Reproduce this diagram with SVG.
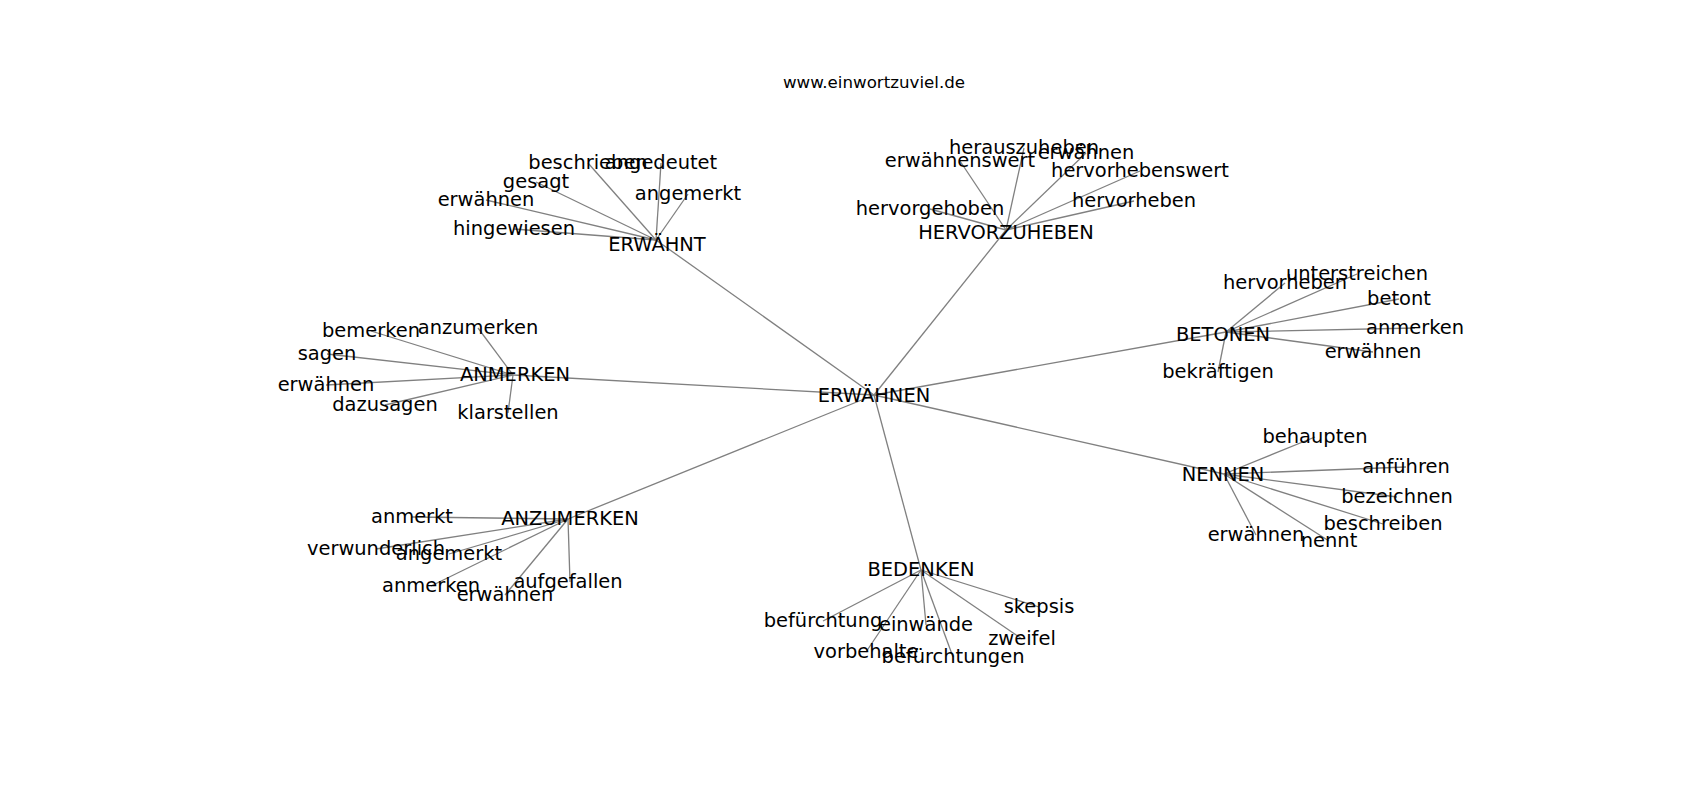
<svg xmlns="http://www.w3.org/2000/svg" width="1700" height="800" viewBox="0 0 1700 800">
<style>
.e{stroke:#808080;stroke-width:1.3;fill:none}
.l{font-family:"DejaVu Sans",sans-serif;font-size:19.44px;fill:#000;text-anchor:middle}
.t{font-family:"DejaVu Sans",sans-serif;font-size:16.67px;fill:#000;text-anchor:middle}
</style>
<rect width="1700" height="800" fill="#fff"/>
<text class="t" x="874" y="88">www.einwortzuviel.de</text>
<g id="edges">
<line class="e" x1="874" y1="395" x2="656" y2="240"/>
<line class="e" x1="874" y1="395" x2="1006" y2="230"/>
<line class="e" x1="874" y1="395" x2="1226" y2="332"/>
<line class="e" x1="874" y1="395" x2="513" y2="375"/>
<line class="e" x1="874" y1="395" x2="568" y2="519"/>
<line class="e" x1="874" y1="395" x2="921" y2="570"/>
<line class="e" x1="874" y1="395" x2="1224" y2="474"/>
<line class="e" x1="656" y1="240" x2="588" y2="163"/>
<line class="e" x1="656" y1="240" x2="661" y2="163"/>
<line class="e" x1="656" y1="240" x2="536" y2="182"/>
<line class="e" x1="656" y1="240" x2="486" y2="200"/>
<line class="e" x1="656" y1="240" x2="514" y2="229"/>
<line class="e" x1="656" y1="240" x2="688" y2="194"/>
<line class="e" x1="1006" y1="230" x2="1024" y2="148"/>
<line class="e" x1="1006" y1="230" x2="960" y2="161"/>
<line class="e" x1="1006" y1="230" x2="1086" y2="153"/>
<line class="e" x1="1006" y1="230" x2="1140" y2="171"/>
<line class="e" x1="1006" y1="230" x2="930" y2="209"/>
<line class="e" x1="1006" y1="230" x2="1134" y2="201"/>
<line class="e" x1="1226" y1="332" x2="1357" y2="274"/>
<line class="e" x1="1226" y1="332" x2="1285" y2="283"/>
<line class="e" x1="1226" y1="332" x2="1399" y2="299"/>
<line class="e" x1="1226" y1="332" x2="1415" y2="328"/>
<line class="e" x1="1226" y1="332" x2="1373" y2="352"/>
<line class="e" x1="1226" y1="332" x2="1218" y2="372"/>
<line class="e" x1="513" y1="375" x2="371" y2="331"/>
<line class="e" x1="513" y1="375" x2="478" y2="328"/>
<line class="e" x1="513" y1="375" x2="327" y2="354"/>
<line class="e" x1="513" y1="375" x2="326" y2="385"/>
<line class="e" x1="513" y1="375" x2="385" y2="405"/>
<line class="e" x1="513" y1="375" x2="508" y2="413"/>
<line class="e" x1="568" y1="519" x2="412" y2="517"/>
<line class="e" x1="568" y1="519" x2="376" y2="549"/>
<line class="e" x1="568" y1="519" x2="449" y2="554"/>
<line class="e" x1="568" y1="519" x2="431" y2="586"/>
<line class="e" x1="568" y1="519" x2="505" y2="595"/>
<line class="e" x1="568" y1="519" x2="570" y2="582"/>
<line class="e" x1="921" y1="570" x2="823" y2="621"/>
<line class="e" x1="921" y1="570" x2="926" y2="625"/>
<line class="e" x1="921" y1="570" x2="866" y2="652"/>
<line class="e" x1="921" y1="570" x2="953" y2="657"/>
<line class="e" x1="921" y1="570" x2="1039" y2="607"/>
<line class="e" x1="921" y1="570" x2="1022" y2="639"/>
<line class="e" x1="1224" y1="474" x2="1315" y2="437"/>
<line class="e" x1="1224" y1="474" x2="1406" y2="467"/>
<line class="e" x1="1224" y1="474" x2="1397" y2="497"/>
<line class="e" x1="1224" y1="474" x2="1383" y2="524"/>
<line class="e" x1="1224" y1="474" x2="1256" y2="535"/>
<line class="e" x1="1224" y1="474" x2="1329" y2="541"/>
</g>
<g id="n-center"><text class="l" x="874" y="402">ERWÄHNEN</text></g>
<g id="n-erwaehnt"><text class="l" x="657" y="251">ERWÄHNT</text></g>
<g id="n-hervorzuheben"><text class="l" x="1006" y="239">HERVORZUHEBEN</text></g>
<g id="n-betonen"><text class="l" x="1223" y="341">BETONEN</text></g>
<g id="n-anmerken"><text class="l" x="515" y="381">ANMERKEN</text></g>
<g id="n-anzumerken"><text class="l" x="570" y="525">ANZUMERKEN</text></g>
<g id="n-bedenken"><text class="l" x="921" y="576">BEDENKEN</text></g>
<g id="n-nennen"><text class="l" x="1223" y="481">NENNEN</text></g>
<g id="leaves-erwaehnt">
<text class="l" x="588" y="169">beschrieben</text>
<text class="l" x="661" y="169">angedeutet</text>
<text class="l" x="536" y="188">gesagt</text>
<text class="l" x="486" y="206">erwähnen</text>
<text class="l" x="514" y="235">hingewiesen</text>
<text class="l" x="688" y="200">angemerkt</text>
</g>
<g id="leaves-hervorzuheben">
<text class="l" x="1024" y="154">herauszuheben</text>
<text class="l" x="960" y="167">erwähnenswert</text>
<text class="l" x="1086" y="159">erwähnen</text>
<text class="l" x="1140" y="177">hervorhebenswert</text>
<text class="l" x="930" y="215">hervorgehoben</text>
<text class="l" x="1134" y="207">hervorheben</text>
</g>
<g id="leaves-betonen">
<text class="l" x="1357" y="280">unterstreichen</text>
<text class="l" x="1285" y="289">hervorheben</text>
<text class="l" x="1399" y="305">betont</text>
<text class="l" x="1415" y="334">anmerken</text>
<text class="l" x="1373" y="358">erwähnen</text>
<text class="l" x="1218" y="378">bekräftigen</text>
</g>
<g id="leaves-anmerken">
<text class="l" x="371" y="337">bemerken</text>
<text class="l" x="478" y="334">anzumerken</text>
<text class="l" x="327" y="360">sagen</text>
<text class="l" x="326" y="391">erwähnen</text>
<text class="l" x="385" y="411">dazusagen</text>
<text class="l" x="508" y="419">klarstellen</text>
</g>
<g id="leaves-anzumerken">
<text class="l" x="412" y="523">anmerkt</text>
<text class="l" x="376" y="555">verwunderlich</text>
<text class="l" x="449" y="560">angemerkt</text>
<text class="l" x="431" y="592">anmerken</text>
<text class="l" x="505" y="601">erwähnen</text>
<text class="l" x="568" y="588">aufgefallen</text>
</g>
<g id="leaves-bedenken">
<text class="l" x="823" y="627">befürchtung</text>
<text class="l" x="926" y="631">einwände</text>
<text class="l" x="866" y="658">vorbehalte</text>
<text class="l" x="953" y="663">befürchtungen</text>
<text class="l" x="1039" y="613">skepsis</text>
<text class="l" x="1022" y="645">zweifel</text>
</g>
<g id="leaves-nennen">
<text class="l" x="1315" y="443">behaupten</text>
<text class="l" x="1406" y="473">anführen</text>
<text class="l" x="1397" y="503">bezeichnen</text>
<text class="l" x="1383" y="530">beschreiben</text>
<text class="l" x="1256" y="541">erwähnen</text>
<text class="l" x="1329" y="547">nennt</text>
</g>
</svg>
